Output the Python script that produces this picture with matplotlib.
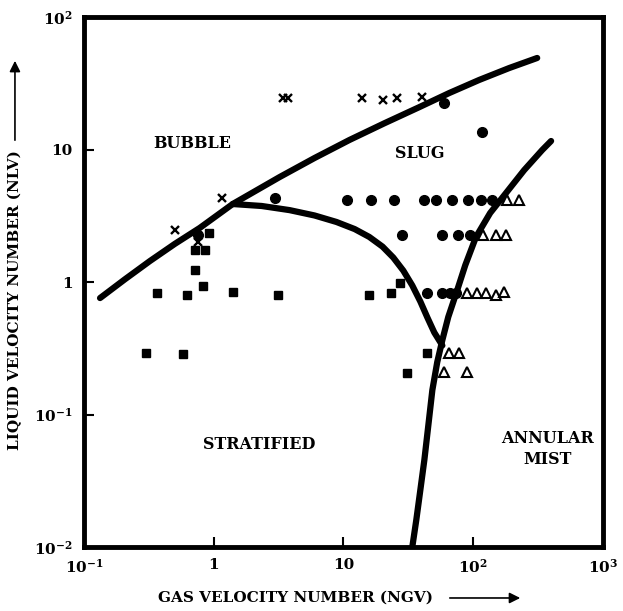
"""
Flow regime map: liquid velocity number vs gas velocity number
"""
import matplotlib
matplotlib.use("Agg")
import matplotlib.pyplot as plt

# 字体: bold serif everywhere
matplotlib.rcParams['font.family'] = ['DejaVu Serif']
matplotlib.rcParams['font.weight'] = 'bold'
matplotlib.rcParams['mathtext.fontset'] = 'custom'
matplotlib.rcParams['mathtext.rm'] = 'DejaVu Serif:bold'
matplotlib.rcParams['mathtext.it'] = 'DejaVu Serif:bold'
matplotlib.rcParams['mathtext.bf'] = 'DejaVu Serif:bold'

# boundary curves (NGV, NLV)
bubble_slug_ngv = [0.133, 0.207, 0.322, 0.501, 0.780, 1.40, 3.22, 5.98, 11.1,
                   20.7, 38.4, 65.3, 111, 189, 311]
bubble_slug_nlv = [0.757, 1.05, 1.44, 1.94, 2.56, 3.88, 6.20, 8.63, 11.8,
                   15.8, 20.9, 26.7, 33.5, 41.2, 49.1]
slug_strat_ngv = [1.40, 2.34, 3.84, 5.98, 8.83, 12.2, 15.8, 20.0, 24.2, 28.9,
                  33.9, 39.1, 44.3, 50.1, 57.8]
slug_strat_nlv = [3.88, 3.75, 3.49, 3.18, 2.84, 2.51, 2.19, 1.85, 1.53, 1.22,
                  0.942, 0.713, 0.540, 0.416, 0.332]
annular_ngv = [33.9, 36.4, 39.1, 42.0, 45.1, 48.4, 52.8, 57.8, 64.2, 74.0,
               86.8, 105, 135, 179, 247, 340, 398]
annular_nlv = [0.01, 0.016, 0.0269, 0.0454, 0.0834, 0.153, 0.249, 0.365, 0.545,
               0.826, 1.34, 2.19, 3.32, 4.70, 7.0, 9.92, 11.6]

# observed points
bubble_ngv = [0.501, 0.76, 1.15, 3.39, 3.71, 13.8, 20.0, 26.0, 40.5]
bubble_nlv = [2.47, 2.0, 4.30, 24.5, 24.5, 24.5, 23.7, 24.5, 24.9]

slug_ngv = [2.95, 0.753, 10.7, 16.4, 24.7, 42.0, 51.9, 68.9, 91.5, 115, 140,
            28.4, 57.8, 76.7, 94.8, 44.3, 57.8, 66.0, 74.0, 59.8, 117]
slug_nlv = [4.30, 2.26, 4.16, 4.16, 4.16, 4.16, 4.16, 4.16, 4.16, 4.16, 4.16,
            2.26, 2.26, 2.26, 2.26, 0.826, 0.826, 0.826, 0.826, 22.4, 13.6]

strat_ngv = [0.30, 0.578, 0.365, 0.62, 1.40, 3.11, 0.714, 0.822, 0.714, 0.853,
             0.916, 15.6, 23.4, 27.4, 44.3, 31.1]
strat_nlv = [0.29, 0.285, 0.826, 0.80, 0.84, 0.80, 1.23, 0.93, 1.74, 1.74,
             2.34, 0.80, 0.82, 0.98, 0.29, 0.206]

annular_pt_ngv = [183, 226, 119, 150, 179, 89.9, 107, 126, 150, 173,
                  65.3, 78.0, 59.8, 89.9]
annular_pt_nlv = [4.16, 4.16, 2.26, 2.26, 2.26, 0.826, 0.826, 0.826, 0.80, 0.84,
                  0.291, 0.291, 0.21, 0.21]

x_ticks = [0.1, 1, 10, 100, 1000]
x_labels = [r'$10^{-1}$', '1', '10', r'$10^{2}$', r'$10^{3}$']
y_ticks = [0.01, 0.1, 1, 10, 100]
y_labels = [r'$10^{-2}$', r'$10^{-1}$', '1', '10', r'$10^{2}$']

fig = plt.figure(figsize=(6.23, 6.11), dpi=100)
ax = fig.add_axes([0.1348, 0.1047, 0.8331, 0.8674])
ax.set_xscale('log')
ax.set_yscale('log')
ax.set_xlim(0.1, 1000)
ax.set_ylim(0.01, 100)

# 边界线
for xs, ys in [(bubble_slug_ngv, bubble_slug_nlv),
               (slug_strat_ngv, slug_strat_nlv),
               (annular_ngv, annular_nlv)]:
    ax.plot(xs, ys, color='black', lw=4.5, solid_capstyle='round',
            solid_joinstyle='round', zorder=2)

# 数据点
ax.plot(strat_ngv, strat_nlv, 's', color='black', ms=5.8, zorder=3)
ax.plot(slug_ngv, slug_nlv, 'o', color='black', ms=7, zorder=3)
ax.plot(bubble_ngv, bubble_nlv, 'x', color='black', ms=5.5, mew=1.7, zorder=3)
ax.plot(annular_pt_ngv, annular_pt_nlv, '^', mfc='white', mec='black',
        ms=7, mew=1.5, zorder=4)

# 区域标签
ax.text(0.68, 11.2, 'BUBBLE', ha='center', va='center', fontsize=11.5)
ax.text(38.4, 9.4, 'SLUG', ha='center', va='center', fontsize=11.5)
ax.text(2.26, 0.059, 'STRATIFIED', ha='center', va='center', fontsize=11.5)
ax.text(371, 0.0665, 'ANNULAR', ha='center', va='center', fontsize=11.5)
ax.text(371, 0.0454, 'MIST', ha='center', va='center', fontsize=11.5)

ax.set_xticks(x_ticks)
ax.set_xticklabels(x_labels)
ax.set_yticks(y_ticks)
ax.set_yticklabels(y_labels)
ax.minorticks_off()
ax.tick_params(which='major', direction='in', length=7, width=1.5,
               top=False, right=False, labelsize=11, pad=8)
for sp in ax.spines.values():
    sp.set_linewidth(3.5)

# 轴标题 + 箭头
fig.text(0.475, 0.0213, 'GAS VELOCITY NUMBER (NGV)', ha='center', va='center',
         fontsize=11)
ax.annotate('', xy=(0.8395, 0.0213), xytext=(0.7175, 0.0213),
            xycoords='figure fraction', textcoords='figure fraction',
            arrowprops=dict(arrowstyle='-|>', lw=1.2, color='black',
                            mutation_scale=16))
fig.text(0.024, 0.509, 'LIQUID VELOCITY NUMBER (NLV)', ha='center', va='center',
         rotation=90, fontsize=11)
ax.annotate('', xy=(0.024, 0.905), xytext=(0.024, 0.766),
            xycoords='figure fraction', textcoords='figure fraction',
            arrowprops=dict(arrowstyle='-|>', lw=1.2, color='black',
                            mutation_scale=16))

plt.savefig('out.png', dpi=100, facecolor='white')
plt.close()
